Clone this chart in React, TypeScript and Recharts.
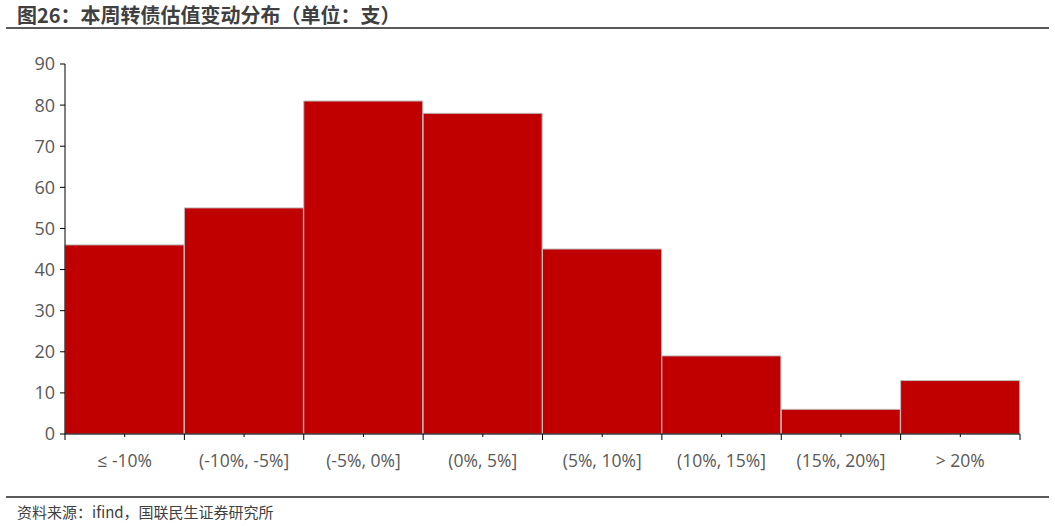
import React from 'react';
import { BarChart, Bar, XAxis, YAxis } from 'recharts';

const categories = ['≤ -10%', '(-10%, -5%]', '(-5%, 0%]', '(0%, 5%]', '(5%, 10%]', '(10%, 15%]', '(15%, 20%]', '> 20%'];
const counts = [46, 55, 81, 78, 45, 19, 6, 13];
const yTicks = [0, 10, 20, 30, 40, 50, 60, 70, 80, 90];
const title = '图26：本周转债估值变动分布（单位：支）';
const source = '资料来源：ifind，国联民生证券研究所';

const data = categories.map((name, i) => ({ name, value: counts[i] }));

const FONT = '"Open Sans", "Noto Sans CJK SC", sans-serif';
const CJK = '"Noto Sans CJK SC", sans-serif';

const CHART_W = 1055;
const CHART_H = 480;
const MARGIN = { top: 64, right: 35, left: 5, bottom: 6 };
const Y_W = 60;
const PLOT_W = CHART_W - MARGIN.left - MARGIN.right - Y_W;

const XTick = (props: any) => {
  const { x, y, payload, index } = props;
  const half = payload && typeof payload.offset === 'number' && payload.offset > 0 ? payload.offset : PLOT_W / categories.length / 2;
  const y0 = y - 8;
  return (
    <g>
      <line x1={x} x2={x} y1={y0} y2={y0 + 3} stroke="#000" strokeWidth={1} />
      <line x1={x - half} x2={x - half} y1={y0} y2={y0 + 6} stroke="#000" strokeWidth={1} />
      {index === categories.length - 1 && (
        <line x1={x + half} x2={x + half} y1={y0} y2={y0 + 6} stroke="#000" strokeWidth={1} />
      )}
      <text x={x} y={y0 + 33} textAnchor="middle" fill="#595959" fontSize={17.5} fontFamily={FONT}>
        {payload.value}
      </text>
    </g>
  );
};

export default function App() {
  return (
    <div style={{ position: 'absolute', left: 0, top: 0, width: 1055, height: 526, background: '#fff' }}>
      <div style={{ position: 'absolute', left: 17, top: 2, fontFamily: CJK, fontWeight: 700, fontSize: 20, color: '#404040', whiteSpace: 'nowrap', lineHeight: '26px' }}>
        {title}
      </div>
      <div style={{ position: 'absolute', left: 6, top: 27, width: 1043, height: 2, background: '#595959' }} />
      <div style={{ position: 'absolute', left: 0, top: 0 }}>
        <BarChart width={CHART_W} height={CHART_H} data={data} margin={MARGIN} barCategoryGap={0} barGap={0}>
          <XAxis
            dataKey="name"
            interval={0}
            height={40}
            axisLine={{ stroke: '#000', strokeWidth: 1 }}
            tickLine={false}
            tick={<XTick />}
          />
          <YAxis
            width={Y_W}
            domain={[0, 90]}
            ticks={yTicks}
            interval={0}
            axisLine={{ stroke: '#000', strokeWidth: 1 }}
            tickLine={{ stroke: '#000', strokeWidth: 1 }}
            tickSize={5}
            tick={{ fill: '#595959', fontSize: 18, fontFamily: FONT, dx: -3 }}
          />
          <Bar dataKey="value" fill="#C00000" stroke="#bdbdbd" strokeWidth={1} isAnimationActive={false} />
        </BarChart>
      </div>
      <div style={{ position: 'absolute', left: 6, top: 496, width: 1043, height: 2, background: '#595959' }} />
      <div style={{ position: 'absolute', left: 17, top: 501, fontFamily: CJK, fontSize: 15, color: '#404040', whiteSpace: 'nowrap', lineHeight: '22px' }}>
        {source}
      </div>
    </div>
  );
}
